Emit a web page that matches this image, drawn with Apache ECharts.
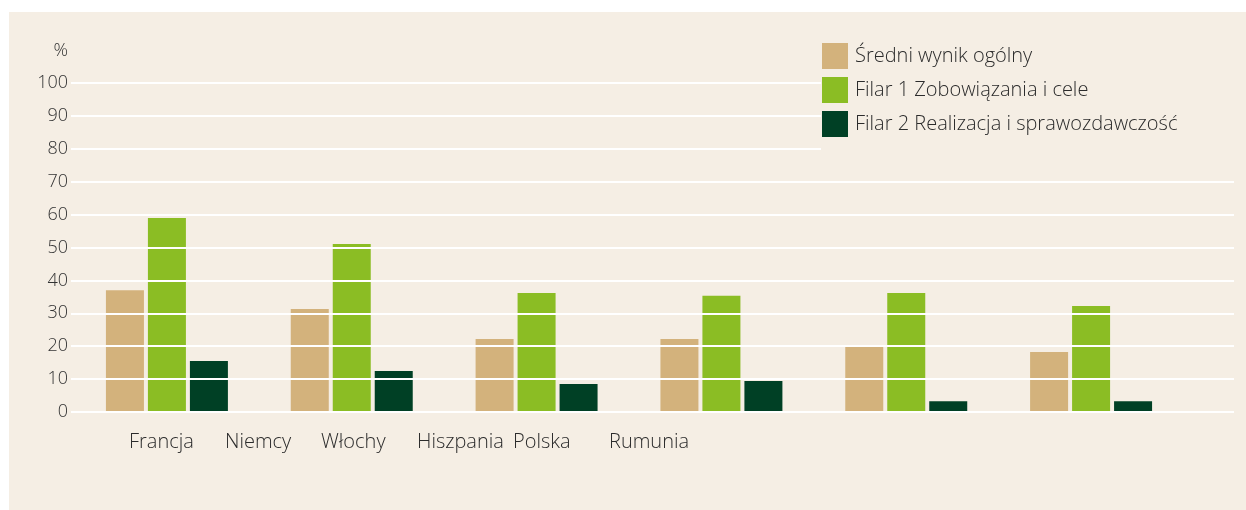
<!DOCTYPE html>
<html>
<head>
<meta charset="utf-8">
<script src="https://cdn.jsdelivr.net/npm/echarts@6/dist/echarts.min.js"></script>
<style>
  html, body { margin: 0; padding: 0; background: #fff; }
  .panel { position: absolute; left: 9px; top: 12px; right: 0; bottom: 0; background: #f5eee4; }
  .demo { position: absolute; left: 0; top: 0; width: 1246px; height: 510px; }
</style>
</head>
<body>
<div class="panel"></div>
<div class="demo"></div>
<script>
const countries = ['Francja', 'Niemcy', 'Włochy', 'Hiszpania', 'Polska', 'Rumunia']
const groups = ['1', '2', '3', '4', '5', '6']
const sredni = [37, 31.3, 22.2, 22.2, 20.4, 18.2]
const filar1 = [59, 51.1, 36.2, 35.3, 36.2, 32.2]
const filar2 = [15.5, 12.5, 8.5, 9.4, 3.3, 3.3]
const yTicks = [0, 10, 20, 30, 40, 50, 60, 70, 80, 90, 100]

;(function () {
  const chartinstance = echarts.init(document.querySelector('.demo'))
  const font = '"Open Sans", "Noto Sans", sans-serif'
  const barStyle = (name, data, color) => ({
    name: name,
    type: 'bar',
    xAxisIndex: 1,
    yAxisIndex: 1,
    data: data,
    barWidth: 38,
    barGap: '10.5%',
    itemStyle: { color: color },
    emphasis: { disabled: true }
  })

  const option = {
    backgroundColor: 'transparent',
    animation: false,
    textStyle: { fontFamily: font },
    legend: {
      orient: 'vertical',
      left: 821,
      top: 33,
      padding: [10, 60, 18, 1],
      itemWidth: 26,
      itemHeight: 26,
      itemGap: 8,
      icon: 'rect',
      backgroundColor: '#f5eee4',
      z: 10,
      textStyle: { fontSize: 20, color: '#2b2b2b', fontWeight: 300, padding: [0, 0, 0, 2] },
      data: ['Średni wynik ogólny', 'Filar 1 Zobowiązania i cele', 'Filar 2 Realizacja i sprawozdawczość']
    },
    grid: [
      { left: 71, right: 12, top: 83, bottom: 98 },
      { left: 74.5, right: 62.5, top: 83, bottom: 98 },
      { left: 129, width: 480, top: 83, bottom: 98 }
    ],
    xAxis: [
      { gridIndex: 0, type: 'category', data: groups, show: false },
      { gridIndex: 1, type: 'category', data: groups, show: false },
      {
        gridIndex: 2,
        type: 'category',
        data: countries,
        boundaryGap: false,
        axisLine: { show: false },
        axisTick: { show: false },
        axisLabel: { interval: 0, align: 'left', margin: 20, fontSize: 20, color: '#2b2b2b', fontWeight: 300, fontFamily: font }
      }
    ],
    yAxis: [
      {
        gridIndex: 0,
        type: 'value',
        min: yTicks[0],
        max: yTicks[yTicks.length - 1],
        interval: 10,
        z: 5,
        name: '%',
        nameLocation: 'end',
        nameGap: 23,
        nameTextStyle: { align: 'right', fontSize: 18, color: '#333', fontWeight: 300, padding: [0, 3, 0, 0] },
        axisLine: { show: false },
        axisTick: { show: false },
        axisLabel: { margin: 3, fontSize: 18, color: '#333', fontWeight: 300, fontFamily: font },
        splitLine: { lineStyle: { color: '#ffffff', width: 2 } }
      },
      { gridIndex: 1, type: 'value', min: 0, max: 100, show: false, splitLine: { show: false } },
      { gridIndex: 2, type: 'value', min: 0, max: 100, show: false, splitLine: { show: false } }
    ],
    series: [
      barStyle('Średni wynik ogólny', sredni, '#d3b27c'),
      barStyle('Filar 1 Zobowiązania i cele', filar1, '#8bbd24'),
      barStyle('Filar 2 Realizacja i sprawozdawczość', filar2, '#004025')
    ]
  }
  option && chartinstance.setOption(option)
  window.addEventListener('resize', () => {
    chartinstance.resize()
  })
})()
</script>
</body>
</html>
